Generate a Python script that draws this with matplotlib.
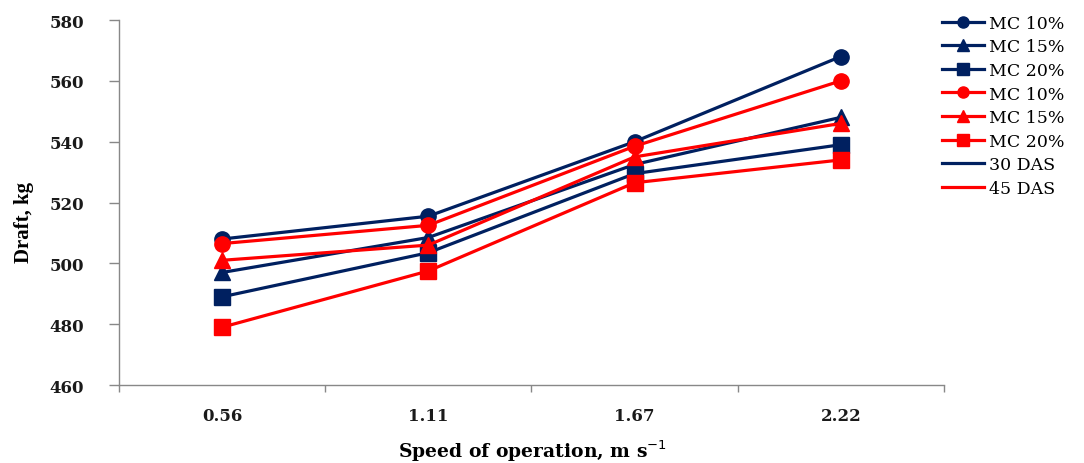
import matplotlib
matplotlib.use("Agg")
import matplotlib.pyplot as plt
from matplotlib.lines import Line2D

speeds = ["0.56", "1.11", "1.67", "2.22"]
das30_mc10 = [508, 515.5, 540, 568]
das30_mc15 = [497, 508.5, 532.5, 548]
das30_mc20 = [489, 503.5, 529.5, 539]
das45_mc10 = [506.5, 512.5, 538.5, 560]
das45_mc15 = [501, 506, 535, 546]
das45_mc20 = [479, 497.5, 526.5, 534]
yticks = [460, 480, 500, 520, 540, 560, 580]

NAVY = "#002060"
RED = "#FF0000"

fig = plt.figure(figsize=(10.84, 4.64), dpi=100)
ax = fig.add_axes([0.1098, 0.1681, 0.7610, 0.7866])

x = list(range(len(speeds)))
series = [
    (das30_mc10, NAVY, "o", "MC 10%"),
    (das30_mc15, NAVY, "^", "MC 15%"),
    (das30_mc20, NAVY, "s", "MC 20%"),
    (das45_mc10, RED, "o", "MC 10%"),
    (das45_mc15, RED, "^", "MC 15%"),
    (das45_mc20, RED, "s", "MC 20%"),
]
handles = []
for vals, col, mk, lab in series:
    ax.plot(x, vals, color=col, lw=2.3, marker=mk, markersize=11, zorder=3)
    handles.append(Line2D([], [], color=col, lw=2.3, marker=mk, markersize=8, label=lab))
handles.append(Line2D([], [], color=NAVY, lw=2.3, label="30 DAS"))
handles.append(Line2D([], [], color=RED, lw=2.3, label="45 DAS"))

ax.set_xlim(-0.5, len(speeds) - 0.5)
ax.set_ylim(460, 580)
ax.set_yticks(yticks)
ax.set_xticks(x)
ax.set_xticklabels(speeds)
ax.set_xticks([i - 0.5 for i in range(len(speeds) + 1)], minor=True)
ax.tick_params(axis="x", which="major", length=0, pad=16)
ax.tick_params(axis="x", which="minor", length=5, width=1, color="#888888", direction="out")
ax.tick_params(axis="y", length=7, width=1, color="#888888", direction="out", pad=18)

for t in ax.get_xticklabels() + ax.get_yticklabels():
    t.set_fontfamily("DejaVu Serif")
    t.set_fontweight("bold")
    t.set_fontsize(12)
    t.set_color("#1a1a1a")

for s in ["top", "right"]:
    ax.spines[s].set_visible(False)
for s in ["left", "bottom"]:
    ax.spines[s].set_color("#888888")
    ax.spines[s].set_linewidth(1)

fig.text(0.491, 1 - 451 / 464, "Speed of operation, m s$^{-1}$", ha="center", va="center",
         fontfamily="DejaVu Serif", fontweight="bold", fontsize=13.5)
fig.text(0.022, 0.52, "Draft, kg", rotation=90, ha="center", va="center",
         fontfamily="Liberation Serif", fontweight="bold", fontsize=15)

fig.legend(handles=handles, loc="upper left", bbox_to_anchor=(0.869, 0.966),
           frameon=False, borderpad=0, borderaxespad=0, handlelength=2.4,
           handletextpad=0.3, labelspacing=0.38,
           prop={"family": "DejaVu Serif", "size": 12.5})

fig.savefig("out.png", dpi=100)
